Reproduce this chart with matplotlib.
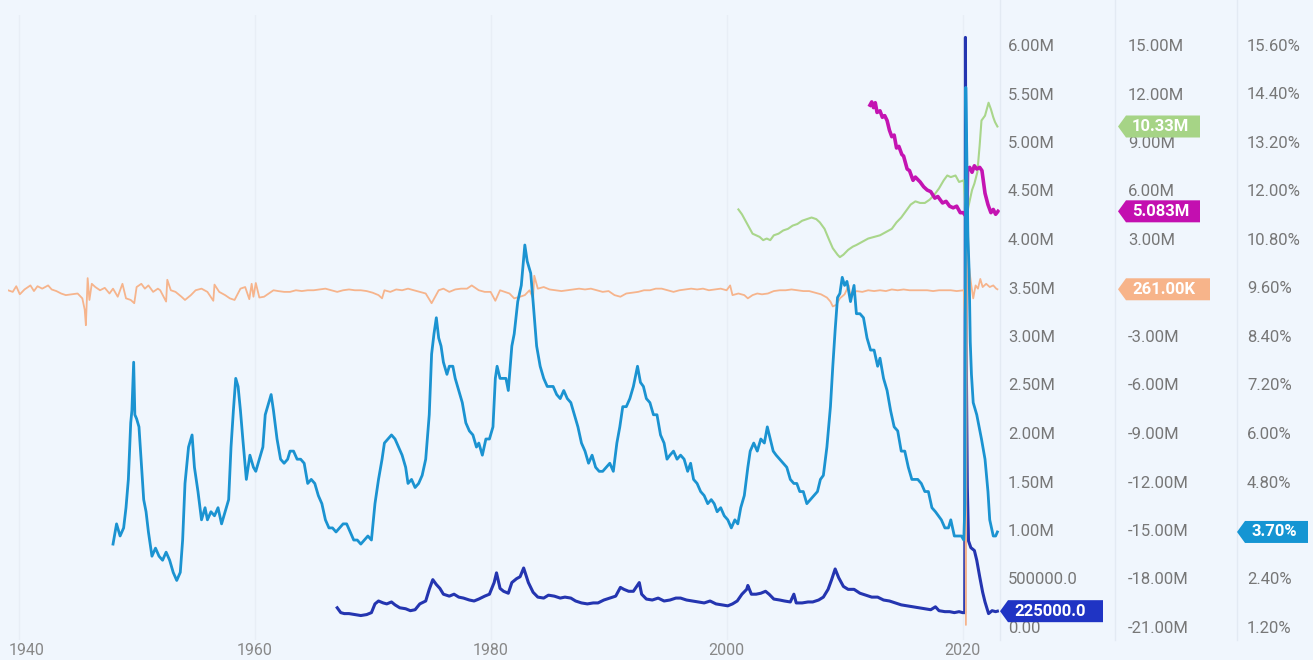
import matplotlib
matplotlib.use("Agg")
import matplotlib.pyplot as plt
from matplotlib.patches import Polygon
from matplotlib.lines import Line2D
from matplotlib.transforms import IdentityTransform, ScaledTranslation

# ---- data ----
unemp_year = [1948.0, 1948.3, 1948.6, 1948.9, 1949.1, 1949.3, 1949.5, 1949.6, 1949.75, 1949.85,
              1950.0, 1950.2, 1950.4, 1950.6, 1950.8, 1951.0, 1951.3, 1951.6, 1951.9, 1952.2,
              1952.5, 1952.8, 1953.1, 1953.4, 1953.7, 1953.9, 1954.1, 1954.4, 1954.7, 1954.9,
              1955.2, 1955.5, 1955.8, 1956.0, 1956.3, 1956.6, 1956.9, 1957.2, 1957.5, 1957.8,
              1958.0, 1958.2, 1958.4, 1958.6, 1958.8, 1959.0, 1959.3, 1959.6, 1959.9, 1960.1,
              1960.4, 1960.7, 1960.9, 1961.2, 1961.4, 1961.6, 1961.9, 1962.2, 1962.5, 1962.8,
              1963.0, 1963.3, 1963.6, 1963.9, 1964.2, 1964.5, 1964.8, 1965.1, 1965.4, 1965.7,
              1966.0, 1966.3, 1966.6, 1966.9, 1967.2, 1967.5, 1967.8, 1968.1, 1968.4, 1968.7,
              1969.0, 1969.3, 1969.6, 1969.9, 1970.2, 1970.5, 1970.8, 1971.0, 1971.3, 1971.6,
              1971.9, 1972.2, 1972.5, 1972.8, 1973.0, 1973.3, 1973.6, 1973.9, 1974.2, 1974.5,
              1974.8, 1975.0, 1975.2, 1975.4, 1975.6, 1975.8, 1976.0, 1976.3, 1976.5, 1976.8,
              1977.0, 1977.3, 1977.6, 1977.9, 1978.2, 1978.5, 1978.8, 1979.0, 1979.3, 1979.6,
              1979.9, 1980.2, 1980.4, 1980.55, 1980.8, 1981.0, 1981.3, 1981.5, 1981.8, 1982.0,
              1982.3, 1982.6, 1982.9, 1983.1, 1983.4, 1983.6, 1983.9, 1984.2, 1984.5, 1984.8,
              1985.0, 1985.3, 1985.6, 1985.9, 1986.2, 1986.5, 1986.8, 1987.1, 1987.4, 1987.7,
              1988.0, 1988.3, 1988.6, 1988.9, 1989.2, 1989.5, 1989.8, 1990.1, 1990.4, 1990.7,
              1990.95, 1991.2, 1991.5, 1991.8, 1992.1, 1992.45, 1992.7, 1992.95, 1993.2, 1993.5,
              1993.8, 1994.1, 1994.4, 1994.7, 1994.95, 1995.2, 1995.5, 1995.8, 1996.1, 1996.4,
              1996.7, 1996.95, 1997.2, 1997.5, 1997.8, 1998.1, 1998.4, 1998.7, 1998.95, 1999.2,
              1999.5, 1999.8, 2000.1, 2000.4, 2000.7, 2000.95, 2001.2, 2001.5, 2001.8, 2002.0,
              2002.3, 2002.6, 2002.9, 2003.2, 2003.45, 2003.7, 2003.95, 2004.2, 2004.5, 2004.8,
              2005.1, 2005.4, 2005.7, 2005.95, 2006.2, 2006.5, 2006.8, 2007.1, 2007.4, 2007.7,
              2007.95, 2008.2, 2008.5, 2008.8, 2009.0, 2009.2, 2009.4, 2009.6, 2009.8, 2010.0,
              2010.2, 2010.5, 2010.8, 2011.0, 2011.3, 2011.6, 2011.9, 2012.2, 2012.5, 2012.8,
              2013.0, 2013.3, 2013.6, 2013.9, 2014.2, 2014.5, 2014.8, 2015.1, 2015.4, 2015.7,
              2015.95, 2016.2, 2016.5, 2016.8, 2017.1, 2017.4, 2017.7, 2017.95, 2018.2, 2018.5,
              2018.8, 2019.0, 2019.3, 2019.6, 2019.9, 2020.1, 2020.2, 2020.27, 2020.35, 2020.45,
              2020.55, 2020.65, 2020.75, 2020.9, 2021.2, 2021.6, 2021.9, 2022.15, 2022.3, 2022.6,
              2022.8, 2022.95]
unemp_rate = [3.4, 3.9, 3.6, 3.8, 4.3, 5.0, 6.4, 6.7, 7.9, 6.6,
              6.5, 6.3, 5.4, 4.5, 4.2, 3.7, 3.1, 3.3, 3.1, 3.0,
              3.2, 3.0, 2.7, 2.5, 2.7, 3.5, 4.9, 5.8, 6.1, 5.3,
              4.7, 4.0, 4.3, 4.0, 4.2, 4.1, 4.3, 3.9, 4.2, 4.5,
              5.8, 6.7, 7.5, 7.3, 6.7, 6.0, 5.0, 5.6, 5.3, 5.2,
              5.5, 5.8, 6.6, 6.9, 7.1, 6.7, 6.0, 5.5, 5.4, 5.5,
              5.7, 5.7, 5.5, 5.5, 5.4, 4.9, 5.0, 4.9, 4.6, 4.4,
              4.0, 3.8, 3.8, 3.7, 3.8, 3.9, 3.9, 3.7, 3.5, 3.5,
              3.4, 3.5, 3.6, 3.5, 4.4, 5.0, 5.5, 5.9, 6.0, 6.1,
              6.0, 5.8, 5.6, 5.3, 4.9, 5.0, 4.8, 4.9, 5.1, 5.5,
              6.6, 8.1, 8.6, 9.0, 8.5, 8.3, 7.9, 7.6, 7.8, 7.8,
              7.5, 7.2, 6.9, 6.4, 6.2, 6.1, 5.8, 5.9, 5.6, 6.0,
              6.0, 6.3, 7.5, 7.8, 7.5, 7.5, 7.5, 7.2, 8.3, 8.6,
              9.4, 9.8, 10.8, 10.4, 10.1, 9.4, 8.3, 7.8, 7.5, 7.3,
              7.3, 7.3, 7.1, 7.0, 7.2, 7.0, 6.9, 6.6, 6.3, 5.9,
              5.7, 5.4, 5.6, 5.3, 5.2, 5.2, 5.3, 5.4, 5.2, 5.9,
              6.3, 6.8, 6.8, 7.0, 7.3, 7.8, 7.4, 7.3, 7.0, 6.9,
              6.6, 6.6, 6.1, 5.9, 5.5, 5.6, 5.7, 5.5, 5.6, 5.5,
              5.2, 5.4, 5.0, 4.9, 4.7, 4.6, 4.4, 4.5, 4.4, 4.2,
              4.3, 4.1, 4.0, 3.8, 4.0, 3.9, 4.3, 4.6, 5.3, 5.7,
              5.9, 5.7, 6.0, 5.9, 6.3, 6.0, 5.7, 5.6, 5.5, 5.4,
              5.3, 5.0, 4.9, 4.9, 4.7, 4.7, 4.4, 4.5, 4.6, 4.7,
              5.0, 5.1, 5.8, 6.8, 7.8, 8.7, 9.5, 9.6, 10.0, 9.8,
              9.9, 9.4, 9.8, 9.1, 9.1, 9.0, 8.5, 8.2, 8.2, 7.8,
              8.0, 7.5, 7.2, 6.7, 6.3, 6.2, 5.7, 5.7, 5.3, 5.0,
              5.0, 5.0, 4.9, 4.7, 4.7, 4.3, 4.2, 4.1, 4.0, 3.8,
              3.8, 4.0, 3.6, 3.6, 3.6, 3.5, 4.4, 14.7, 13.2, 11.0,
              10.2, 8.4, 7.6, 6.9, 6.6, 6.0, 5.5, 4.7, 4.0, 3.6,
              3.6, 3.7]

claims_year = [1967.0, 1967.3, 1967.6, 1968.0, 1968.5, 1969.0, 1969.5, 1969.9, 1970.2, 1970.5,
               1970.9, 1971.2, 1971.6, 1971.9, 1972.3, 1972.8, 1973.2, 1973.6, 1974.0, 1974.5,
               1974.8, 1975.1, 1975.4, 1975.7, 1976.0, 1976.5, 1976.9, 1977.3, 1977.7, 1978.2,
               1978.6, 1979.0, 1979.5, 1979.9, 1980.3, 1980.5, 1980.8, 1981.1, 1981.5, 1981.8,
               1982.2, 1982.5, 1982.8, 1983.2, 1983.6, 1984.0, 1984.5, 1984.9, 1985.4, 1985.9,
               1986.3, 1986.8, 1987.2, 1987.7, 1988.2, 1988.7, 1989.1, 1989.6, 1990.1, 1990.6,
               1991.0, 1991.3, 1991.7, 1992.1, 1992.6, 1992.8, 1993.2, 1993.7, 1994.2, 1994.7,
               1995.2, 1995.7, 1996.1, 1996.6, 1997.1, 1997.6, 1998.1, 1998.6, 1999.1, 1999.6,
               2000.1, 2000.5, 2000.9, 2001.3, 2001.7, 2001.8, 2002.1, 2002.5, 2002.9, 2003.3,
               2003.6, 2004.0, 2004.5, 2004.9, 2005.4, 2005.7, 2005.9, 2006.4, 2006.9, 2007.3,
               2007.8, 2008.2, 2008.6, 2008.9, 2009.2, 2009.5, 2009.9, 2010.3, 2010.8, 2011.3,
               2011.8, 2012.3, 2012.8, 2013.3, 2013.8, 2014.3, 2014.8, 2015.3, 2015.8, 2016.3,
               2016.8, 2017.3, 2017.7, 2018.0, 2018.5, 2018.9, 2019.3, 2019.7, 2020.0, 2020.18,
               2020.22, 2020.24, 2020.27, 2020.3, 2020.4, 2020.5, 2020.7, 2021.0, 2021.2, 2021.45,
               2021.7, 2021.9, 2022.2, 2022.5, 2022.8, 2022.95]
claims_m = [0.26, 0.21, 0.20, 0.20, 0.19, 0.18, 0.19, 0.21, 0.30, 0.33,
            0.31, 0.30, 0.32, 0.29, 0.26, 0.25, 0.23, 0.24, 0.30, 0.33,
            0.45, 0.55, 0.50, 0.46, 0.40, 0.38, 0.40, 0.37, 0.36, 0.34,
            0.33, 0.35, 0.38, 0.40, 0.52, 0.62, 0.46, 0.43, 0.41, 0.52,
            0.56, 0.58, 0.67, 0.52, 0.42, 0.37, 0.36, 0.39, 0.38, 0.36,
            0.37, 0.36, 0.33, 0.31, 0.30, 0.31, 0.31, 0.34, 0.36, 0.38,
            0.47, 0.45, 0.43, 0.43, 0.52, 0.40, 0.35, 0.34, 0.36, 0.33,
            0.34, 0.36, 0.36, 0.34, 0.33, 0.32, 0.31, 0.33, 0.30, 0.29,
            0.28, 0.30, 0.33, 0.40, 0.45, 0.49, 0.40, 0.40, 0.41, 0.43,
            0.40, 0.35, 0.34, 0.33, 0.32, 0.40, 0.31, 0.31, 0.32, 0.32,
            0.34, 0.37, 0.45, 0.55, 0.66, 0.57, 0.48, 0.45, 0.45, 0.41,
            0.39, 0.37, 0.37, 0.34, 0.33, 0.31, 0.29, 0.28, 0.27, 0.26,
            0.25, 0.24, 0.27, 0.23, 0.22, 0.22, 0.21, 0.22, 0.21, 0.21,
            3.30, 6.14, 4.40, 3.00, 1.50, 0.95, 0.88, 0.85, 0.75, 0.58,
            0.42, 0.32, 0.20, 0.23, 0.22, 0.225]

payroll_year = [1939.1, 1939.5, 1939.8, 1940.1, 1940.5, 1941.0, 1941.3, 1941.6, 1942.0, 1942.5,
                1942.8, 1943.2, 1943.6, 1944.0, 1944.5, 1945.0, 1945.4, 1945.6, 1945.7, 1945.8,
                1945.85, 1946.0, 1946.2, 1946.5, 1946.9, 1947.3, 1947.7, 1948.0, 1948.4, 1948.8,
                1949.1, 1949.5, 1949.8, 1950.0, 1950.4, 1950.7, 1951.0, 1951.4, 1951.8, 1952.0,
                1952.5, 1952.6, 1952.9, 1953.3, 1953.8, 1954.1, 1954.6, 1955.0, 1955.5, 1956.0,
                1956.5, 1956.6, 1957.0, 1957.5, 1957.9, 1958.3, 1958.8, 1959.2, 1959.55, 1959.75,
                1959.9, 1960.1, 1960.4, 1960.8, 1961.2, 1961.6, 1962.0, 1962.5, 1963.0, 1963.5,
                1964.0, 1964.5, 1965.0, 1965.5, 1966.0, 1966.5, 1967.0, 1967.5, 1968.0, 1968.5,
                1969.0, 1969.5, 1970.0, 1970.5, 1970.8, 1971.0, 1971.5, 1972.0, 1972.5, 1973.0,
                1973.5, 1974.0, 1974.5, 1975.0, 1975.3, 1975.6, 1976.0, 1976.5, 1977.0, 1977.5,
                1978.0, 1978.4, 1979.0, 1979.5, 1980.0, 1980.4, 1980.8, 1981.2, 1981.6, 1982.0,
                1982.5, 1982.9, 1983.3, 1983.6, 1983.7, 1984.0, 1984.5, 1985.0, 1985.5, 1986.0,
                1986.5, 1987.0, 1987.5, 1988.0, 1988.5, 1989.0, 1989.5, 1990.0, 1990.5, 1991.0,
                1991.5, 1992.0, 1992.5, 1993.0, 1993.5, 1994.0, 1994.5, 1995.0, 1995.5, 1996.0,
                1996.5, 1997.0, 1997.5, 1998.0, 1998.5, 1999.0, 1999.5, 2000.0, 2000.3, 2000.5,
                2001.0, 2001.5, 2001.8, 2002.2, 2002.6, 2003.0, 2003.5, 2004.0, 2004.5, 2005.0,
                2005.5, 2006.0, 2006.5, 2007.0, 2007.5, 2008.0, 2008.5, 2008.8, 2009.0, 2009.3,
                2009.6, 2010.0, 2010.35, 2010.5, 2011.0, 2011.5, 2012.0, 2012.5, 2013.0, 2013.5,
                2014.0, 2014.5, 2015.0, 2015.5, 2016.0, 2016.5, 2017.0, 2017.5, 2018.0, 2018.5,
                2019.0, 2019.5, 2020.1, 2020.2, 2020.28, 2020.37, 2020.45, 2020.55, 2020.7, 2020.9,
                2021.1, 2021.3, 2021.5, 2021.7, 2022.0, 2022.3, 2022.6, 2022.85, 2022.95]
payroll_m = [0.2, 0.1, 0.45, -0.05, 0.25, 0.5, 0.15, 0.45, 0.3, 0.5,
             0.25, 0.15, 0.0, -0.1, -0.05, 0.0, -0.3, -1.0, -1.96, 0.1,
             0.95, -0.4, 0.6, 0.4, 0.2, 0.35, 0.0, 0.3, -0.2, 0.6,
             -0.3, -0.4, -0.6, 0.4, 0.6, 0.3, 0.5, 0.1, 0.3, 0.2,
             -0.5, 0.85, 0.2, 0.1, -0.2, -0.4, -0.1, 0.2, 0.3, 0.1,
             -0.45, 0.55, 0.1, -0.1, -0.3, -0.4, 0.3, 0.4, -0.35, 0.6,
             -0.2, 0.65, -0.25, -0.2, 0.0, 0.2, 0.15, 0.1, 0.1, 0.2,
             0.15, 0.2, 0.2, 0.25, 0.3, 0.2, 0.1, 0.2, 0.25, 0.2,
             0.2, 0.15, 0.05, -0.1, -0.3, 0.2, 0.1, 0.25, 0.2, 0.3,
             0.2, 0.1, 0.0, -0.6, -0.2, 0.2, 0.3, 0.1, 0.25, 0.3,
             0.3, 0.5, 0.2, 0.1, 0.1, -0.45, 0.2, 0.1, 0.0, -0.3,
             -0.2, -0.1, 0.2, -0.3, 1.1, 0.3, 0.4, 0.25, 0.2, 0.15,
             0.2, 0.25, 0.3, 0.25, 0.3, 0.2, 0.1, 0.15, -0.1, -0.2,
             0.0, 0.05, 0.1, 0.2, 0.2, 0.3, 0.3, 0.2, 0.1, 0.2,
             0.25, 0.3, 0.25, 0.3, 0.2, 0.25, 0.3, 0.2, 0.5, -0.1,
             0.0, -0.1, -0.3, -0.1, 0.0, -0.05, 0.0, 0.15, 0.2, 0.2,
             0.25, 0.2, 0.15, 0.15, 0.05, -0.05, -0.25, -0.5, -0.8, -0.7,
             -0.3, -0.05, 0.5, -0.2, 0.15, 0.1, 0.2, 0.15, 0.2, 0.15,
             0.25, 0.2, 0.25, 0.2, 0.2, 0.2, 0.2, 0.15, 0.2, 0.2,
             0.2, 0.15, 0.2, -1.5, -20.5, 2.8, 4.3, 1.6, 0.7, -0.3,
             0.5, 0.3, 0.9, 0.4, 0.6, 0.4, 0.5, 0.3, 0.261]

openings_year = [2001.0, 2001.3, 2001.6, 2001.9, 2002.2, 2002.5, 2002.8, 2003.1, 2003.4, 2003.7,
                 2004.0, 2004.4, 2004.8, 2005.2, 2005.6, 2006.0, 2006.4, 2006.8, 2007.2, 2007.6,
                 2007.9, 2008.3, 2008.7, 2009.0, 2009.4, 2009.6, 2009.9, 2010.3, 2010.7, 2011.0,
                 2011.5, 2012.0, 2012.5, 2013.0, 2013.5, 2014.0, 2014.4, 2014.8, 2015.2, 2015.6,
                 2016.0, 2016.4, 2016.8, 2017.2, 2017.6, 2018.0, 2018.4, 2018.7, 2019.0, 2019.4,
                 2019.7, 2020.1, 2020.3, 2020.5, 2020.8, 2021.0, 2021.25, 2021.45, 2021.6, 2021.9,
                 2022.2, 2022.4, 2022.6, 2022.75, 2022.95]
openings_m = [5.2, 4.9, 4.5, 4.1, 3.7, 3.6, 3.5, 3.3, 3.4, 3.3,
              3.6, 3.7, 3.9, 4.0, 4.2, 4.3, 4.5, 4.6, 4.7, 4.6,
              4.4, 4.0, 3.3, 2.8, 2.4, 2.25, 2.4, 2.7, 2.9, 3.0,
              3.2, 3.4, 3.5, 3.6, 3.8, 4.0, 4.4, 4.7, 5.1, 5.5,
              5.7, 5.6, 5.6, 5.8, 6.1, 6.5, 7.0, 7.3, 7.2, 7.3,
              6.9, 7.0, 4.6, 5.4, 6.4, 6.8, 7.5, 9.2, 10.7, 11.0,
              11.8, 11.4, 10.9, 10.6, 10.33]

magenta_year = [2012.15, 2012.3, 2012.45, 2012.6, 2012.75, 2013.0, 2013.2, 2013.4, 2013.6, 2013.8,
                2014.0, 2014.2, 2014.4, 2014.6, 2014.85, 2015.0, 2015.3, 2015.5, 2015.8, 2016.0,
                2016.4, 2016.7, 2017.0, 2017.3, 2017.65, 2017.9, 2018.3, 2018.6, 2018.9, 2019.2,
                2019.5, 2019.8, 2020.05, 2020.37, 2020.42, 2020.6, 2020.8, 2021.0, 2021.2, 2021.45,
                2021.64, 2021.9, 2022.15, 2022.4, 2022.6, 2022.8, 2023.0]
magenta_m = [11.65, 11.85, 11.5, 11.8, 11.2, 11.3, 10.9, 11.0, 10.7, 10.1,
             9.7, 9.8, 9.0, 9.1, 8.6, 8.5, 7.7, 7.6, 7.0, 7.2,
             6.9, 6.6, 6.4, 6.3, 5.9, 6.0, 5.6, 5.7, 5.4, 5.3,
             5.4, 5.0, 5.0, 4.7, 7.7, 7.8, 7.5, 7.9, 7.7, 7.8,
             7.6, 6.2, 5.5, 5.0, 5.2, 4.9, 5.083]

year_ticks = [1940, 1960, 1980, 2000, 2020]
left_ticks = [0.0, 0.5, 1.0, 1.5, 2.0, 2.5, 3.0, 3.5, 4.0, 4.5, 5.0, 5.5, 6.0]
mid_ticks = [-21, -18, -15, -12, -9, -6, -3, 0, 3, 6, 9, 12, 15]
pct_ticks = [1.2, 2.4, 3.6, 4.8, 6.0, 7.2, 8.4, 9.6, 10.8, 12.0, 13.2, 14.4, 15.6]

# ---- styling ----
W, H = 1313, 660
bg = "#f0f6fd"
tick_grey = "#777777"
c_unemp = "#1b93d1"
c_claims = "#2435b0"
c_payroll = "#f6b48c"
c_open = "#a9d68b"
c_mag = "#c414b2"

plt.rcParams["font.family"] = ["Roboto", "DejaVu Sans"]

fig = plt.figure(figsize=(W / 100, H / 100), dpi=100)
fig.patch.set_facecolor(bg)

# plot area in pixels (top-left origin)
px_left, px_right, px_top, px_bot = 8, 1000, 15, 640
tick_top, tick_bot = 51, 633          # pixel rows of first / last y tick
ax = fig.add_axes([px_left / W, (H - px_bot) / H,
                   (px_right - px_left) / W, (px_bot - px_top) / H])
ax.set_facecolor(bg)
ax2 = ax.twinx()
ax3 = ax.twinx()


def lims(v_bot, v_top):
    per_px = (v_top - v_bot) / (tick_bot - tick_top)
    return v_bot - (px_bot - tick_bot) * per_px, v_top + (tick_top - px_top) * per_px


ax.set_xlim(1939.1, 2023.17)
ax.set_ylim(*lims(left_ticks[0], left_ticks[-1]))
ax2.set_ylim(*lims(mid_ticks[0], mid_ticks[-1]))
ax3.set_ylim(*lims(pct_ticks[0], pct_ticks[-1]))

for a in (ax, ax2, ax3):
    for s in a.spines.values():
        s.set_visible(False)
ax2.spines["right"].set_position(("axes", (1120 - px_left) / (px_right - px_left)))
ax3.spines["right"].set_position(("axes", (1239 - px_left) / (px_right - px_left)))

ax.yaxis.tick_right()


def left_fmt(v):
    if v == 0:
        return "0.00"
    if v == 0.5:
        return "500000.0"
    return f"{v:.2f}M"


ax.set_yticks(left_ticks, labels=[left_fmt(v) for v in left_ticks])
ax2.set_yticks(mid_ticks, labels=["0.00" if v == 0 else f"{v:.2f}M" for v in mid_ticks])
ax3.set_yticks(pct_ticks, labels=[f"{v:.2f}%" for v in pct_ticks])

up = ScaledTranslation(0, 6 / 100, fig.dpi_scale_trans)
for a in (ax, ax2, ax3):
    a.tick_params(axis="y", length=0, pad=5.8, labelsize=12, labelcolor=tick_grey,
                  right=True, left=False, labelright=True, labelleft=False)
    for t in a.yaxis.get_major_ticks():
        t.label2.set_transform(t.label2.get_transform() + up)

ax.set_xticks(year_ticks, labels=[str(y) for y in year_ticks])
ax.tick_params(axis="x", length=0, pad=2, labelsize=11.5, labelcolor="#888888")
# first year label is kept inside the plot, as in the reference
first = ax.xaxis.get_major_ticks()[0].label1
first.set_horizontalalignment("left")
first.set_transform(first.get_transform() + ScaledTranslation(-10 / 100, 0, fig.dpi_scale_trans))
ax.grid(axis="x", color="#e8eef6", linewidth=1)
ax.set_axisbelow(True)

# ---- series ----
ax.plot(claims_year, claims_m, color=c_claims, lw=2.2, solid_joinstyle="round")
ax2.plot(payroll_year, payroll_m, color=c_payroll, lw=1.3)
ax2.plot(openings_year, openings_m, color=c_open, lw=1.5)
ax2.plot(magenta_year, magenta_m, color=c_mag, lw=2.6, solid_joinstyle="round")
ax3.plot(unemp_year, unemp_rate, color=c_unemp, lw=2.0, solid_joinstyle="round")

# faint column separators of the right-hand axes
for xp in (px_right, 1115, 1237):
    fig.add_artist(Line2D([xp / W, xp / W], [(H - px_bot) / H, 1.0], color="#e3eaf3", lw=1))


# ---- value flags ----
def flag(axis, value, tip_x, right_x, text, color):
    y = axis.transData.transform((0, value))[1]
    h = 11
    pts = [(tip_x, y), (tip_x + 8, y + h), (right_x, y + h), (right_x, y - h), (tip_x + 8, y - h)]
    fig.add_artist(Polygon(pts, closed=True, facecolor=color, edgecolor="none",
                           transform=IdentityTransform(), zorder=5))
    fig.text(tip_x + 14, y, text, transform=IdentityTransform(), color="white",
             fontsize=12, fontweight="bold", va="center", ha="left", zorder=6)


fig.canvas.draw()
flag(ax2, openings_m[-1], 1118, 1200, "10.33M", "#a6d486")
flag(ax2, magenta_m[-1], 1118, 1200, "5.083M", "#c30fb0")
flag(ax2, payroll_m[-1], 1118, 1210, "261.00K", "#f7b48a")
flag(ax3, unemp_rate[-1], 1237, 1308, "3.70%", "#1595d3")
flag(ax, claims_m[-1], 1000, 1103, "225000.0", "#1f34c4")

fig.savefig("out.png", dpi=100, facecolor=bg)
